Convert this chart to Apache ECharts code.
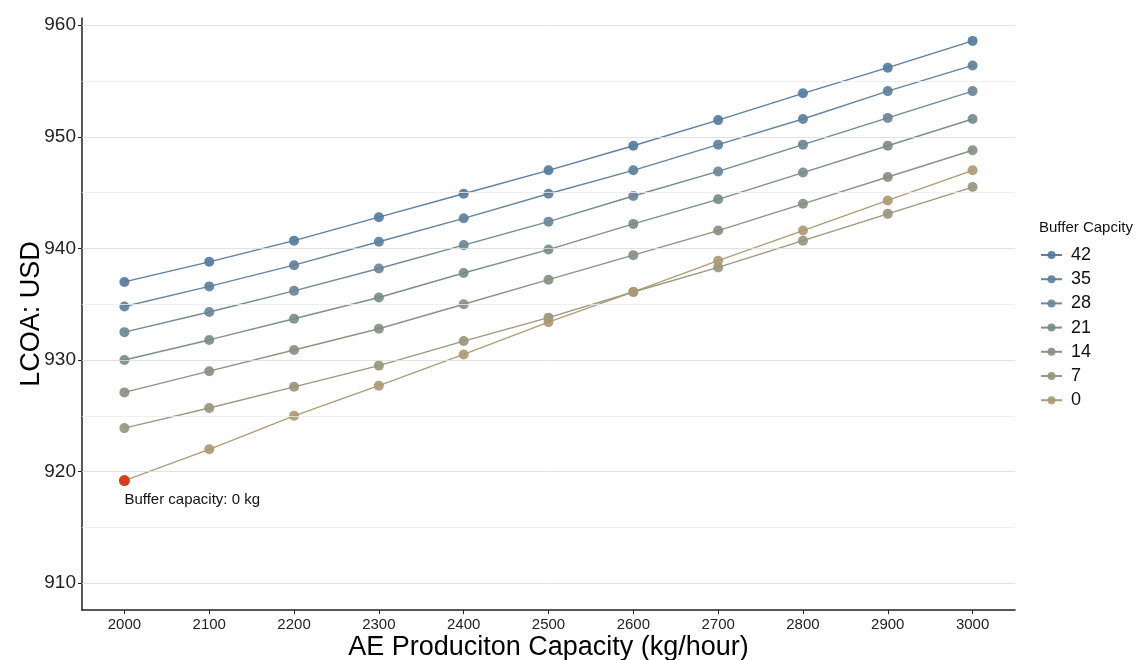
<!DOCTYPE html>
<html>
<head>
<meta charset="utf-8">
<title>LCOA vs AE production capacity</title>
<script src="https://cdn.jsdelivr.net/npm/echarts@6/dist/echarts.min.js"></script>
<style>
  html, body { margin: 0; padding: 0; background: #ffffff; }
  #chart { width: 1137px; height: 660px; }
</style>
</head>
<body>
<div id="chart"></div>
<script>
// AE production capacity (kg/hour) on the x axis
const productionCapacity = [2000, 2100, 2200, 2300, 2400, 2500, 2600, 2700, 2800, 2900, 3000];

// Buffer capacity levels, top of legend first
const bufferCapacities = ['42', '35', '28', '21', '14', '7', '0'];

// LCOA (USD) for each buffer capacity
const lcoa42 = [937.0, 938.8, 940.7, 942.8, 944.9, 947.0, 949.2, 951.5, 953.9, 956.2, 958.6];
const lcoa35 = [934.8, 936.6, 938.5, 940.6, 942.7, 944.9, 947.0, 949.3, 951.6, 954.1, 956.4];
const lcoa28 = [932.5, 934.3, 936.2, 938.2, 940.3, 942.4, 944.7, 946.9, 949.3, 951.7, 954.1];
const lcoa21 = [930.0, 931.8, 933.7, 935.6, 937.8, 939.9, 942.2, 944.4, 946.8, 949.2, 951.6];
const lcoa14 = [927.1, 929.0, 930.9, 932.8, 935.0, 937.2, 939.4, 941.6, 944.0, 946.4, 948.8];
const lcoa7  = [923.9, 925.7, 927.6, 929.5, 931.7, 933.8, 936.1, 938.3, 940.7, 943.1, 945.5];
const lcoa0  = [919.2, 922.0, 925.0, 927.7, 930.5, 933.4, 936.1, 938.9, 941.6, 944.3, 947.0];

// Axis ticks and grid lines
const xTicks = [2000, 2100, 2200, 2300, 2400, 2500, 2600, 2700, 2800, 2900, 3000];
const yTicks = [910, 920, 930, 940, 950, 960];
const yMinorGrid = [915, 925, 935, 945, 955];

// Highlighted point and its note
const highlightNote = 'Buffer capacity: 0 kg';

const seriesValues = [lcoa42, lcoa35, lcoa28, lcoa21, lcoa14, lcoa7, lcoa0];
const palette = ['#52799f', '#5b7e9b', '#688493', '#758a88', '#848e7e', '#969479', '#ab9870'];

const FONT = 'Liberation Sans, Arial, Helvetica, sans-serif';

const chart = echarts.init(document.getElementById('chart'), null, { renderer: 'canvas' });

function gridLines(values, color) {
  return values.map(v => ({ yAxis: v, lineStyle: { color: color, width: 0.8, type: 'solid' } }));
}

const lineSeries = bufferCapacities.map((name, i) => {
  const data = productionCapacity.map((x, j) => {
    const point = [x, seriesValues[i][j]];
    if (name === '0' && j === 0) {
      return {
        value: point,
        symbolSize: 11,
        itemStyle: { color: '#d4401b', opacity: 1 },
        label: {
          show: true,
          formatter: highlightNote,
          position: 'bottom',
          align: 'left',
          verticalAlign: 'top',
          distance: 6,
          offset: [0, 0],
          fontFamily: FONT,
          fontSize: 15,
          color: '#111111'
        }
      };
    }
    return point;
  });
  return {
    name: name,
    type: 'line',
    data: data,
    symbol: 'circle',
    symbolSize: 10,
    showSymbol: true,
    z: 3,
    lineStyle: { color: palette[i], width: 1.4, opacity: 0.95 },
    itemStyle: { color: palette[i], opacity: 0.9 },
    emphasis: { disabled: true },
    animation: false
  };
});

// Background grid lines drawn on the value scale
const gridSeries = {
  name: 'grid',
  type: 'line',
  data: [],
  z: 1,
  silent: true,
  animation: false,
  markLine: {
    silent: true,
    symbol: ['none', 'none'],
    label: { show: false },
    animation: false,
    data: gridLines(yMinorGrid, '#ececec').concat(gridLines(yTicks, '#dadada'))
  }
};

const option = {
  backgroundColor: '#ffffff',
  animation: false,
  grid: { left: 82, right: 122, top: 18, bottom: 50, containLabel: false, outerBoundsMode: 'none' },
  xAxis: {
    type: 'value',
    min: 1950,
    max: 3050,
    name: 'AE Produciton Capacity (kg/hour)',
    nameLocation: 'middle',
    nameGap: 24,
    nameMoveOverlap: false,
    nameTextStyle: { fontFamily: FONT, fontSize: 27, color: '#000000', verticalAlign: 'top' },
    axisLine: { show: true, lineStyle: { color: '#222222', width: 1.5 } },
    axisTick: { show: true, length: 4, lineStyle: { color: '#222222', width: 1 }, customValues: xTicks },
    axisLabel: {
      customValues: xTicks,
      formatter: v => String(v),
      fontFamily: FONT, fontSize: 15, color: '#222222', margin: 7
    },
    splitLine: { show: false }
  },
  yAxis: {
    type: 'value',
    min: 907.6,
    max: 960.65,
    name: 'LCOA: USD',
    nameLocation: 'middle',
    nameGap: 37,
    nameMoveOverlap: false,
    nameRotate: 90,
    nameTextStyle: { fontFamily: FONT, fontSize: 27, color: '#000000' },
    axisLine: { show: true, lineStyle: { color: '#222222', width: 1.5 } },
    axisTick: { show: true, length: 4, lineStyle: { color: '#222222', width: 1 }, customValues: yTicks },
    axisLabel: { customValues: yTicks, fontFamily: FONT, fontSize: 19, color: '#222222', margin: 6 },
    splitLine: { show: false }
  },
  legend: {
    data: bufferCapacities,
    orient: 'vertical',
    left: 1040,
    top: 246,
    padding: 0,
    itemWidth: 21,
    itemHeight: 10,
    itemGap: 6.2,
    selectedMode: false,
    textStyle: { fontFamily: FONT, fontSize: 18, color: '#111111', padding: [0, 0, 0, 4] }
  },
  graphic: [{
    type: 'text',
    left: 1039,
    top: 220,
    style: { text: 'Buffer Capcity', fontFamily: FONT, fontSize: 15, fill: '#111111' }
  }],
  series: [gridSeries].concat(lineSeries)
};

chart.setOption(option);
</script>
</body>
</html>
